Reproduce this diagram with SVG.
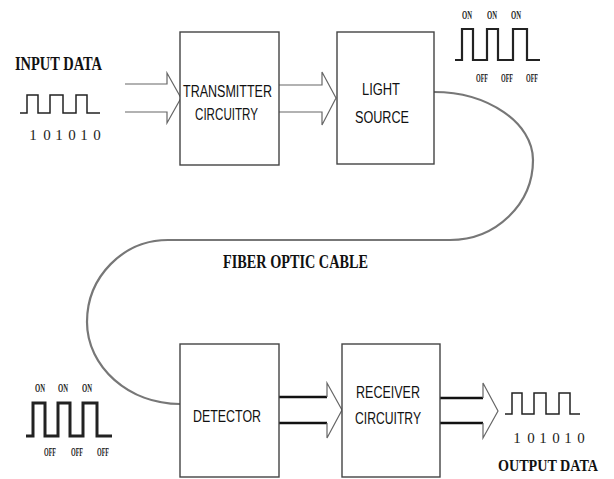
<svg xmlns="http://www.w3.org/2000/svg" width="614" height="479" viewBox="0 0 614 479">
<style>
.box{fill:#fff;stroke:#444;stroke-width:1.4}
.lbl{font-family:"Liberation Sans",Arial,sans-serif;font-size:16px;fill:#111;text-anchor:middle}
.ttl{font-family:"Liberation Serif","Times New Roman",serif;font-weight:bold;font-size:18px;fill:#111}
.dig{font-family:"Liberation Serif","Times New Roman",serif;font-size:15px;fill:#222;text-anchor:middle}
.st{font-family:"Liberation Serif","Times New Roman",serif;font-weight:bold;font-size:12px;fill:#222;text-anchor:middle}
.wave{fill:none;stroke:#222;stroke-linejoin:miter}
.arr{fill:none;stroke:#666;stroke-width:1.2}
.arrb{fill:none;stroke:#111;stroke-width:2.4}
.cable{fill:none;stroke:#777;stroke-width:2.2}
</style>
<rect width="614" height="479" fill="#fff"/>
<g id="connectors">
<path class="cable" d="M434,92 C488,92 533,123 533,160 C533,204 496,240 450,240 L168,240 C123,240 87,277 87,322 C87,367 129,404 180,404"/>
<path class="arr" d="M125,84 H167 L167,73 L181,98 L167,123 L167,112 H125"/>
<path class="arr" d="M279,85 H322 L322,72 L336,98 L322,125 L322,112 H279"/>
<path class="arrb" d="M279,397 H327"/>
<path class="arrb" d="M279,423 H327"/>
<path class="arr" d="M327,397 L327,383 L342,410 L327,438 L327,423"/>
<path class="arrb" d="M440,398 H483"/>
<path class="arrb" d="M440,423 H483"/>
<path class="arr" d="M483,398 L483,383 L498,411 L483,438 L483,423"/>
</g>
<g id="input-data">
<text class="ttl" x="15" y="70" textLength="87" lengthAdjust="spacingAndGlyphs">INPUT DATA</text>
<path class="wave" stroke-width="1.5" d="M20,113 H27 V95 H38 V113 H50 V95 H63 V113 H76 V95 H87 V113 H100"/>
<text class="dig" x="33" y="140">1</text><text class="dig" x="47" y="140">0</text><text class="dig" x="59" y="140">1</text><text class="dig" x="72" y="140">0</text><text class="dig" x="84" y="140">1</text><text class="dig" x="97" y="140">0</text>
</g>
<g id="transmitter">
<rect class="box" x="180" y="32" width="99" height="133"/>
<text class="lbl" x="227.5" y="97" textLength="89" lengthAdjust="spacingAndGlyphs">TRANSMITTER</text>
<text class="lbl" x="226.5" y="120" textLength="63" lengthAdjust="spacingAndGlyphs">CIRCUITRY</text>
</g>
<g id="light-source">
<rect class="box" x="337" y="32" width="97" height="132"/>
<text class="lbl" x="381" y="95" textLength="38" lengthAdjust="spacingAndGlyphs">LIGHT</text>
<text class="lbl" x="382" y="123" textLength="54" lengthAdjust="spacingAndGlyphs">SOURCE</text>
</g>
<g id="light-signal">
<path class="wave" stroke-width="2.2" d="M455,60 H462 V29 H473 V60 H487 V29 H498 V60 H513 V29 H527 V60 H540"/>
<text class="st" x="467" y="19" textLength="10" lengthAdjust="spacingAndGlyphs">ON</text>
<text class="st" x="492" y="19" textLength="10" lengthAdjust="spacingAndGlyphs">ON</text>
<text class="st" x="516" y="19" textLength="10" lengthAdjust="spacingAndGlyphs">ON</text>
<text class="st" x="482" y="82" textLength="12" lengthAdjust="spacingAndGlyphs">OFF</text>
<text class="st" x="507" y="82" textLength="12" lengthAdjust="spacingAndGlyphs">OFF</text>
<text class="st" x="532" y="82" textLength="12" lengthAdjust="spacingAndGlyphs">OFF</text>
</g>
<g id="cable-label">
<text class="ttl" x="223" y="268" textLength="145" lengthAdjust="spacingAndGlyphs">FIBER OPTIC CABLE</text>
</g>
<g id="received-signal">
<path class="wave" stroke-width="3" d="M26,436 H33 V403 H45 V436 H58 V403 H70 V436 H83 V403 H97 V436 H112"/>
<text class="st" x="40" y="392" textLength="10" lengthAdjust="spacingAndGlyphs">ON</text>
<text class="st" x="63" y="392" textLength="10" lengthAdjust="spacingAndGlyphs">ON</text>
<text class="st" x="87" y="392" textLength="10" lengthAdjust="spacingAndGlyphs">ON</text>
<text class="st" x="50" y="456" textLength="12" lengthAdjust="spacingAndGlyphs">OFF</text>
<text class="st" x="77" y="456" textLength="12" lengthAdjust="spacingAndGlyphs">OFF</text>
<text class="st" x="103" y="456" textLength="12" lengthAdjust="spacingAndGlyphs">OFF</text>
</g>
<g id="detector">
<rect class="box" x="180" y="344" width="99" height="133"/>
<text class="lbl" x="227" y="422" textLength="68" lengthAdjust="spacingAndGlyphs">DETECTOR</text>
</g>
<g id="receiver">
<rect class="box" x="342" y="344" width="98" height="133"/>
<text class="lbl" x="388" y="398" textLength="64" lengthAdjust="spacingAndGlyphs">RECEIVER</text>
<text class="lbl" x="388" y="424" textLength="66" lengthAdjust="spacingAndGlyphs">CIRCUITRY</text>
</g>
<g id="output-data">
<path class="wave" stroke-width="1.5" d="M505,414 H512 V393 H522 V414 H534 V393 H546 V414 H559 V393 H570 V414 H580"/>
<text class="dig" x="517" y="443">1</text><text class="dig" x="531" y="443">0</text><text class="dig" x="543" y="443">1</text><text class="dig" x="556" y="443">0</text><text class="dig" x="568" y="443">1</text><text class="dig" x="581" y="443">0</text>
<text class="ttl" x="498" y="471" style="font-size:16px" textLength="100" lengthAdjust="spacingAndGlyphs">OUTPUT DATA</text>
</g>
</svg>
